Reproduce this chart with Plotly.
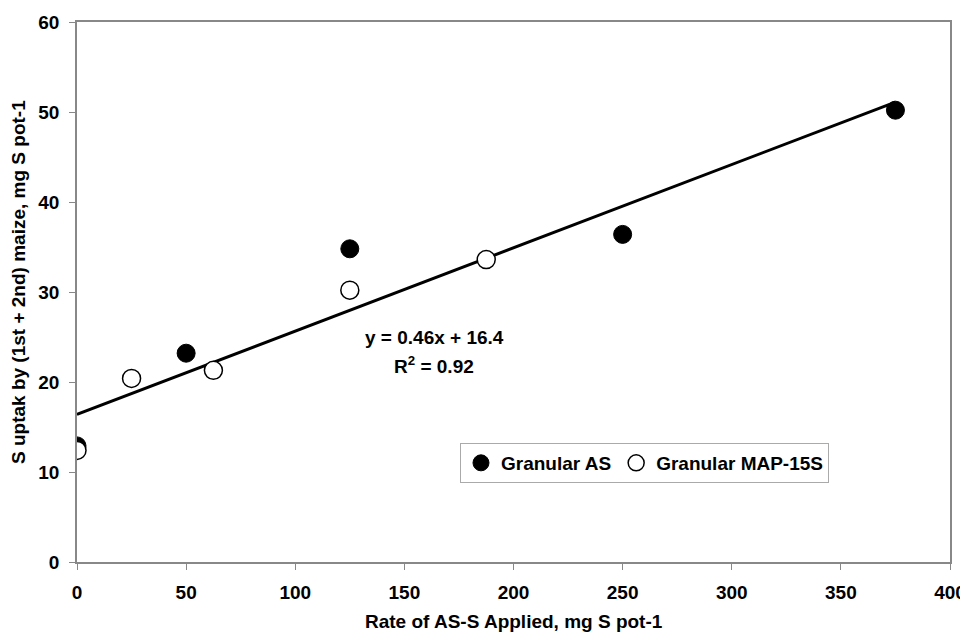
import plotly.graph_objects as go

# Data
as_x = [0, 50, 125, 250, 375]
as_y = [12.9, 23.2, 34.8, 36.4, 50.2]
map_x = [0, 25, 62.5, 125, 187.5]
map_y = [12.4, 20.4, 21.3, 30.2, 33.6]
trend_x = [0, 375]
trend_y = [16.4, 51.1]
x_ticks = [0, 50, 100, 150, 200, 250, 300, 350, 400]
y_ticks = [0, 10, 20, 30, 40, 50, 60]

FONT = "Liberation Sans, Arial, sans-serif"

fig = go.Figure()
fig.add_trace(go.Scatter(x=trend_x, y=trend_y, mode="lines",
                         line=dict(color="black", width=3), showlegend=False,
                         hoverinfo="skip"))
fig.add_trace(go.Scatter(x=as_x, y=as_y, mode="markers", name="Granular AS",
                         marker=dict(symbol="circle", size=18, color="black",
                                     line=dict(color="black", width=1))))
fig.add_trace(go.Scatter(x=map_x, y=map_y, mode="markers", name="Granular MAP-15S",
                         marker=dict(symbol="circle", size=18, color="white",
                                     line=dict(color="black", width=1.5))))

fig.add_annotation(x=0.409, y=0.415, xref="paper", yref="paper",
                   xanchor="center", yanchor="middle",
                   text="<b>y = 0.46x + 16.4</b>", showarrow=False,
                   font=dict(family=FONT, size=19, color="black"))
fig.add_annotation(x=0.409, y=0.365, xref="paper", yref="paper",
                   xanchor="center", yanchor="middle",
                   text="<b>R<sup>2</sup> = 0.92</b>", showarrow=False,
                   font=dict(family=FONT, size=19, color="black"))
# axis titles
fig.add_annotation(x=0.5, y=-0.111, xref="paper", yref="paper",
                   xanchor="center", yanchor="middle",
                   text="<b>Rate of AS-S Applied, mg S pot-1</b>", showarrow=False,
                   font=dict(family=FONT, size=19, color="black"))
fig.add_annotation(x=-0.0676, y=0.5185, xref="paper", yref="paper", textangle=-90,
                   xanchor="center", yanchor="middle",
                   text="<b>S uptak by (1st + 2nd) maize, mg S pot-1</b>", showarrow=False,
                   font=dict(family=FONT, size=19, color="black"))

fig.update_layout(
    width=960, height=626,
    margin=dict(l=69, r=18, t=14, b=72),
    paper_bgcolor="white", plot_bgcolor="white",
    font=dict(family=FONT, size=19, color="black"),
    legend=dict(x=0.4387, y=0.2204, xanchor="left", yanchor="top",
                orientation="h", bordercolor="#aaaaaa", borderwidth=1,
                bgcolor="white", font=dict(family=FONT, size=19, weight="bold"),
                itemsizing="trace", tracegroupgap=0, itemwidth=30),
    xaxis=dict(range=[0, 400], tickvals=x_ticks, showgrid=False, zeroline=False,
               showline=True, linecolor="#888888", linewidth=1.5, mirror=True,
               ticks="outside", tickcolor="#888888", ticklen=6, automargin=False,
               ticklabelstandoff=6,
               tickfont=dict(family=FONT, size=19, weight="bold")),
    yaxis=dict(range=[0, 60], tickvals=y_ticks, showgrid=False, zeroline=False,
               showline=True, linecolor="#888888", linewidth=1.5, mirror=True,
               ticks="outside", tickcolor="#888888", ticklen=6, automargin=False,
               ticklabelstandoff=6,
               tickfont=dict(family=FONT, size=19, weight="bold")),
)

fig.write_html("out.html")
